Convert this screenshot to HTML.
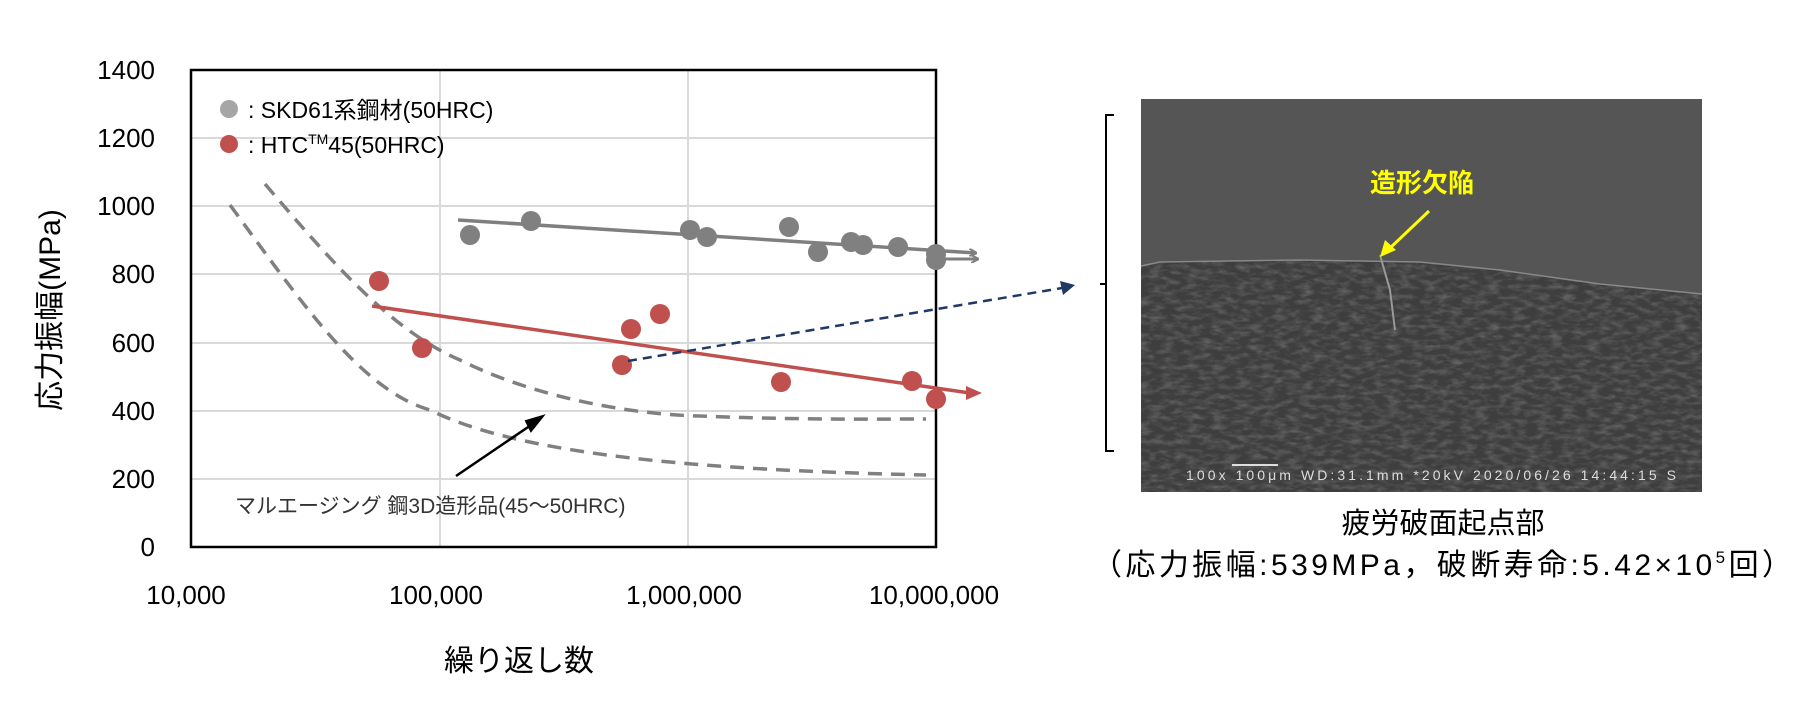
<!DOCTYPE html>
<html><head><meta charset="utf-8"><style>
html,body{margin:0;padding:0;background:#fff;}
svg{display:block;}
text{font-family:"Liberation Sans","Noto Sans CJK JP",sans-serif;}
</style></head><body>
<svg width="1820" height="715" viewBox="0 0 1820 715" xmlns="http://www.w3.org/2000/svg">
<defs>
<marker id="ag" markerWidth="8" markerHeight="8" refX="7" refY="4" orient="auto" markerUnits="userSpaceOnUse"><path d="M0,0 L8,4 L0,8" fill="none" stroke="#808080" stroke-width="2"/></marker>
<filter id="noise" x="0" y="0" width="1" height="1"><feTurbulence type="fractalNoise" baseFrequency="0.08 0.2" numOctaves="3" seed="3"/><feColorMatrix values="0 0 0 0 0.55  0 0 0 0 0.55  0 0 0 0 0.55  0 0 0 1.4 -0.55"/></filter>
<clipPath id="surf"><path d="M1141,266 L1160,262 L1300,260 L1420,262 L1500,270 L1600,284 L1702,294 L1702,492 L1141,492 Z"/></clipPath>
</defs>
<g stroke="#d9d9d9" stroke-width="2">
<line x1="191" y1="138" x2="936" y2="138"/><line x1="191" y1="206" x2="936" y2="206"/>
<line x1="191" y1="274" x2="936" y2="274"/><line x1="191" y1="343" x2="936" y2="343"/>
<line x1="191" y1="411" x2="936" y2="411"/><line x1="191" y1="479" x2="936" y2="479"/>
<line x1="440" y1="70" x2="440" y2="547"/><line x1="688" y1="70" x2="688" y2="547"/>
</g>
<rect x="191" y="70" width="745" height="477" fill="none" stroke="#000" stroke-width="2.5"/>
<g font-size="26" fill="#000" text-anchor="end">
<text x="155" y="79">1400</text><text x="155" y="147">1200</text><text x="155" y="215">1000</text>
<text x="155" y="283">800</text><text x="155" y="352">600</text><text x="155" y="420">400</text>
<text x="155" y="488">200</text><text x="155" y="556">0</text>
</g>
<g font-size="26" fill="#000" text-anchor="middle">
<text x="186" y="604">10,000</text><text x="436" y="604">100,000</text>
<text x="684" y="604">1,000,000</text><text x="934" y="604">10,000,000</text>
<text x="519" y="671" font-size="30">繰り返し数</text>
</g>
<text transform="translate(60,310) rotate(-90)" font-size="30" text-anchor="middle">応力振幅(MPa)</text>
<circle cx="229" cy="109" r="9" fill="#a6a6a6"/>
<circle cx="229" cy="144" r="9" fill="#c0504d"/>
<text x="248" y="118" font-size="23">: SKD61系鋼材(50HRC)</text>
<text x="248" y="153" font-size="23">: HTC<tspan font-size="14" dy="-9">TM</tspan><tspan dy="9">45(50HRC)</tspan></text>
<g fill="none" stroke="#808080" stroke-width="3.5" stroke-dasharray="14,9">
<path d="M230,205 C300,300 360,390 430,410 C520,455 700,470 926,475"/>
<path d="M265,184 C330,260 390,330 460,360 C540,400 640,415 700,416 C800,420 870,419 926,419"/>
</g>
<line x1="458" y1="220" x2="976" y2="253" stroke="#7f7f7f" stroke-width="3.5" marker-end="url(#ag)"/>
<line x1="936" y1="259" x2="978" y2="259" stroke="#7f7f7f" stroke-width="3" marker-end="url(#ag)"/>
<g fill="#808080">
<circle cx="470" cy="235" r="10"/><circle cx="531" cy="221" r="10"/><circle cx="690" cy="230" r="10"/>
<circle cx="707" cy="237" r="10"/><circle cx="789" cy="227" r="10"/><circle cx="818" cy="252" r="10"/>
<circle cx="851" cy="242" r="10"/><circle cx="863" cy="245" r="10"/><circle cx="898" cy="247" r="10"/>
<circle cx="936" cy="254" r="10"/><circle cx="936" cy="260" r="10"/>
</g>
<line x1="372" y1="306" x2="970" y2="393" stroke="#c0504d" stroke-width="3.5"/>
<path d="M966,386 L982,393 L966,400 Z" fill="#c0504d"/>
<g fill="#c0504d">
<circle cx="379" cy="281" r="10"/><circle cx="422" cy="348" r="10"/><circle cx="631" cy="329" r="10"/>
<circle cx="660" cy="314" r="10"/><circle cx="622" cy="365" r="10"/><circle cx="781" cy="382" r="10"/>
<circle cx="912" cy="381" r="10"/><circle cx="936" cy="399" r="10"/>
</g>
<line x1="628" y1="361" x2="1062" y2="288" stroke="#1f3864" stroke-width="2.5" stroke-dasharray="9,6"/>
<path d="M1060,281 L1075,285 L1063,295 Z" fill="#1f3864"/>
<line x1="456" y1="476" x2="537" y2="421" stroke="#000" stroke-width="2.5"/>
<path d="M543,416 L531,431 L526,421 Z" fill="#000" stroke="#000" stroke-width="2"/>
<text x="235" y="513" font-size="21" fill="#333">マルエージング 鋼3D造形品(45～50HRC)</text>
<path d="M1114,115 L1106,115 L1106,451 L1114,451 M1100,284 L1106,284" fill="none" stroke="#000" stroke-width="2"/>
<rect x="1141" y="99" width="561" height="393" fill="#555555"/>
<path d="M1141,266 L1160,262 L1300,260 L1420,262 L1500,270 L1600,284 L1702,294 L1702,492 L1141,492 Z" fill="#3e3e3e"/>
<g clip-path="url(#surf)"><rect x="1141" y="255" width="561" height="237" filter="url(#noise)" opacity="0.4"/></g>
<path d="M1141,266 L1160,262 L1300,260 L1420,262 L1500,270 L1600,284 L1702,294" fill="none" stroke="#888" stroke-width="1.5"/>
<path d="M1380,255 L1390,290 L1395,330" fill="none" stroke="#999" stroke-width="2"/>
<text x="1422" y="192" font-size="26" fill="#ffff00" text-anchor="middle" font-weight="bold">造形欠陥</text>
<line x1="1429" y1="211" x2="1388" y2="250" stroke="#ffff00" stroke-width="3"/>
<path d="M1380,257 L1385,240 L1396,250 Z" fill="#ffff00"/>
<line x1="1232" y1="465" x2="1278" y2="465" stroke="#ddd" stroke-width="2"/>
<text x="1186" y="480" font-size="14" fill="#ddd" font-family="Liberation Mono, monospace" textLength="490">100x  100μm WD:31.1mm *20kV 2020/06/26 14:44:15 S</text>
<text x="1443" y="533" font-size="29" text-anchor="middle">疲労破面起点部</text>
<text x="1092" y="575" font-size="30" textLength="700">（応力振幅:539MPa，破断寿命:5.42×10<tspan font-size="17" dy="-12">5</tspan><tspan dy="12">回）</tspan></text>
</svg>
</body></html>
